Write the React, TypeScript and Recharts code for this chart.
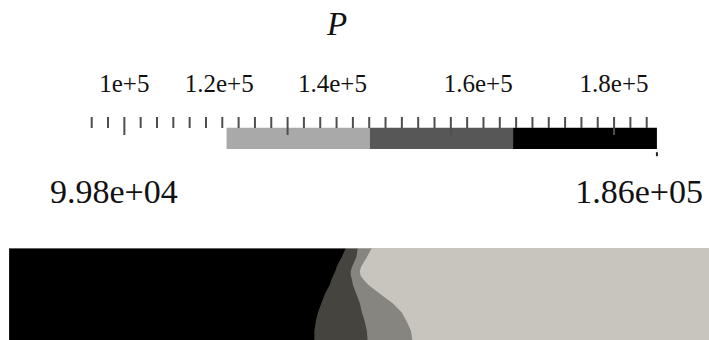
import { ComposedChart, Area, XAxis, YAxis, ReferenceArea, ReferenceLine, CartesianGrid } from 'recharts';

// ---- pressure colour bar ----
const P_DOMAIN: [number, number] = [92500, 189000];
const TICK_STEP = 80000 / 30;
// minor ticks every TICK_STEP, a long tick every tenth one
const SCALE_TICKS = Array.from({ length: 35 }, (_, i) => 100000 + (i - 2) * TICK_STEP);
const LONG_TICKS = [100000, 100000 + 10 * TICK_STEP, 100000 + 20 * TICK_STEP, 180000];

const LABEL_TEXT = ['1e+5', '1.2e+5', '1.4e+5', '1.6e+5', '1.8e+5'];
const LABEL_AT = [100000, 115500, 134000, 157800, 180000];

const BAR_EDGES = [116700, 140100, 163500, 187000];
const BAR_COLORS = ['#a9a9a9', '#575757', '#000000'];

const P_MIN = '9.98e+04';
const P_MAX = '1.86e+05';

// ---- pressure field: contour edges per depth (fraction of channel length) ----
const DEPTH = [0, 0.1, 0.2, 0.25, 0.3, 0.35, 0.4, 0.5, 0.6, 0.7, 0.8, 0.9, 1];
const BLACK_EDGE = [0.481, 0.475, 0.468, 0.466, 0.463, 0.46, 0.458, 0.451, 0.446, 0.441, 0.438, 0.436, 0.436];
const DARK_EDGE = [0.498, 0.496, 0.49, 0.488, 0.488, 0.49, 0.491, 0.496, 0.501, 0.504, 0.508, 0.511, 0.512];
const MID_EDGE = [0.518, 0.511, 0.503, 0.501, 0.502, 0.507, 0.513, 0.53, 0.548, 0.561, 0.568, 0.574, 0.576];

const fieldRows = DEPTH.map((y, i) => ({
  y,
  black: BLACK_EDGE[i],
  dark: DARK_EDGE[i],
  mid: MID_EDGE[i],
}));

const scaleRows = SCALE_TICKS.map((v) => ({ v, h: 0.5 }));

const SERIF = 'Liberation Serif';

const isLong = (v: number) => LONG_TICKS.some((t) => Math.abs(t - v) < 1);

// eslint-disable-next-line @typescript-eslint/no-explicit-any
function LabelTick({ x, y, payload }: any) {
  const idx = LABEL_AT.findIndex((t) => Math.abs(t - payload.value) < 1);
  return (
    <text x={x} y={y} textAnchor="middle" fontFamily={SERIF} fontSize={25} fill="#111">
      {LABEL_TEXT[idx]}
    </text>
  );
}

export default function App() {
  return (
    <div
      style={{
        position: 'absolute',
        left: 0,
        top: 0,
        width: 709,
        height: 340,
        background: '#fff',
        overflow: 'hidden',
      }}
    >
      <div style={{ position: 'absolute', left: 0, top: 0 }}>
        <ComposedChart
          width={709}
          height={160}
          data={scaleRows}
          margin={{ top: 87, right: 39.84, bottom: 3, left: 78.44 }}
        >
          <XAxis
            dataKey="v"
            type="number"
            orientation="top"
            domain={P_DOMAIN}
            ticks={LABEL_AT}
            interval={0}
            height={30}
            tickSize={0}
            tickMargin={25}
            axisLine={false}
            tickLine={false}
            tick={<LabelTick />}
            allowDataOverflow
          />
          <YAxis dataKey="h" type="number" domain={[0, 1]} reversed hide allowDataOverflow />
          {BAR_COLORS.map((c, i) => (
            <ReferenceArea
              key={c}
              x1={BAR_EDGES[i]}
              x2={BAR_EDGES[i + 1]}
              y1={0.27}
              y2={0.8}
              fill={c}
              fillOpacity={1}
              stroke="none"
            />
          ))}
          {SCALE_TICKS.map((v) => (
            <ReferenceLine
              key={v}
              segment={[
                { x: v, y: 0 },
                { x: v, y: isLong(v) ? 0.45 : 0.275 },
              ]}
              stroke="#4e4e4e"
              strokeWidth={2}
            />
          ))}
          <ReferenceLine
            segment={[
              { x: BAR_EDGES[3], y: 0.88 },
              { x: BAR_EDGES[3], y: 0.98 },
            ]}
            stroke="#222"
            strokeWidth={2}
          />
        </ComposedChart>
      </div>

      <div style={{ position: 'absolute', left: 0, top: 248 }}>
        <ComposedChart
          layout="vertical"
          width={709}
          height={92}
          data={fieldRows}
          margin={{ top: 0, right: 0, bottom: 0, left: 9.3 }}
        >
          <CartesianGrid horizontal={false} vertical={false} fill="#c8c5be" />
          <XAxis type="number" domain={[0, 1]} hide />
          <YAxis type="number" dataKey="y" domain={[0, 1]} hide />
          <Area dataKey="mid" type="linear" fill="#878580" fillOpacity={1} stroke="none" isAnimationActive={false} />
          <Area dataKey="dark" type="linear" fill="#46443f" fillOpacity={1} stroke="none" isAnimationActive={false} />
          <Area dataKey="black" type="linear" fill="#000000" fillOpacity={1} stroke="none" isAnimationActive={false} />
          <ReferenceLine y={0} stroke="#c4c4c4" strokeWidth={1} />
        </ComposedChart>
      </div>

      <svg
        width={709}
        height={340}
        style={{ position: 'absolute', left: 0, top: 0, pointerEvents: 'none' }}
      >
        <text x={337} y={35} textAnchor="middle" fontFamily={SERIF} fontStyle="italic" fontSize={33} fill="#111">
          P
        </text>
        <text x={50} y={203} fontFamily={SERIF} fontSize={34} fill="#111">
          {P_MIN}
        </text>
        <text x={703} y={203} textAnchor="end" fontFamily={SERIF} fontSize={34} fill="#111">
          {P_MAX}
        </text>
      </svg>
    </div>
  );
}
